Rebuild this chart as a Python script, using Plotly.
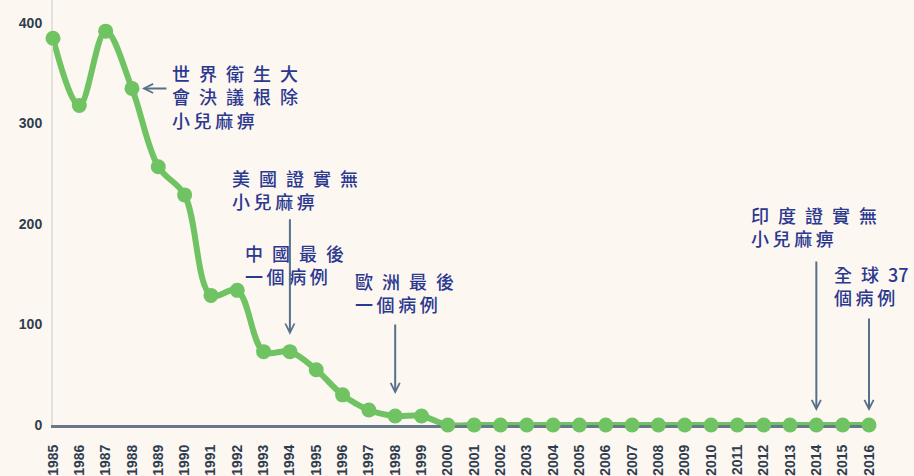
import plotly.graph_objects as go

years = list(range(1985, 2017))
cases = [385, 318, 392, 335, 257, 229, 129, 134, 73, 73, 55, 30, 15, 9, 9,
         0, 0, 0, 0, 0, 0, 0, 0, 0, 0, 0, 0, 0, 0, 0, 0, 0]
y_ticks = [0, 100, 200, 300, 400]
x_ticktext = [str(y) for y in years]

WIDE = "\u2002"
NARROW = "\u2009"


def sp(s, sep):
    return sep.join(list(s))


notes = [
    # (text lines, left year, top value)
    ([sp("世界衛生大", WIDE), sp("會決議根除", WIDE), sp("小兒麻痹", NARROW)], 1985 + (170-53)/26.32, (425-58)/1.005),
    ([sp("美國證實無", WIDE), sp("小兒麻痹", NARROW)], 1985 + (230-53)/26.32, (425-163)/1.005),
    ([sp("中國最後", WIDE), sp("一個病例", NARROW)], 1985 + (243-53)/26.32, (425-238)/1.005),
    ([sp("歐洲最後", WIDE), sp("一個病例", NARROW)], 1985 + (353-53)/26.32, (425-266)/1.005),
    ([sp("印度證實無", WIDE), sp("小兒麻痹", NARROW)], 1985 + (749-53)/26.32, (425-200)/1.005),
    (["全" + WIDE + "球" + WIDE + "37", sp("個病例", NARROW)], 1985 + (832-53)/26.32, (425-259)/1.005),
]

# arrows: (year pointed at, tail dx px, tail dy px, standoff px)
arrows = [
    (1988, 36, 0, 10),
    (1994, 0, -134, 17),
    (1998, 0, -93, 22),
    (2014, 0, -165, 14),
    (2016, 0, -108, 14),
]

GREEN = "#6fc362"
TEXT = "#2b3890"
ARROW = "#56708a"
BG = "#fcf7f0"

fig = go.Figure()
fig.add_trace(go.Scatter(
    x=years, y=cases, mode="lines+markers",
    line=dict(color=GREEN, width=6, shape="spline", smoothing=1.0),
    marker=dict(color=GREEN, size=15),
    cliponaxis=False, hoverinfo="skip", showlegend=False,
))

annotations = []
for lines, x, y in notes:
    annotations.append(dict(
        x=x, y=y, xref="x", yref="y", text="<br>".join(lines),
        showarrow=False, xanchor="left", yanchor="top", align="left",
        font=dict(family="Noto Sans CJK TC", size=18, color=TEXT, weight=500),
    ))
for yr, ax, ay, so in arrows:
    annotations.append(dict(
        x=yr, y=cases[years.index(yr)], xref="x", yref="y", text="",
        showarrow=True, ax=ax, ay=ay, arrowhead=5, arrowsize=0.9,
        arrowwidth=2, arrowcolor=ARROW, standoff=so,
    ))

fig.update_layout(
    width=914, height=476,
    margin=dict(l=53, r=45, t=0, b=51),
    paper_bgcolor=BG, plot_bgcolor=BG,
    annotations=annotations,
    xaxis=dict(
        range=[1985, 2016], tickvals=years, ticktext=x_ticktext,
        tickangle=-90, showgrid=False, zeroline=False, automargin=False,
        showline=True, linecolor="#66788a", linewidth=3,
        ticks="", layer="below traces", ticklabelstandoff=11,
        tickfont=dict(family="Liberation Sans", size=14, color="#2f3d4f", weight="bold"),
    ),
    yaxis=dict(
        range=[0, 423], tickvals=y_ticks, showgrid=False, zeroline=False,
        automargin=False,
        showline=True, linecolor="#e2e2df", linewidth=2,
        ticks="", layer="below traces", ticklabelstandoff=6,
        tickfont=dict(family="Liberation Sans", size=14, color="#2f3d4f", weight="bold"),
    ),
)

fig.write_html("out.html", config={"displayModeBar": False},
               post_script="document.body.style.margin='0';")
